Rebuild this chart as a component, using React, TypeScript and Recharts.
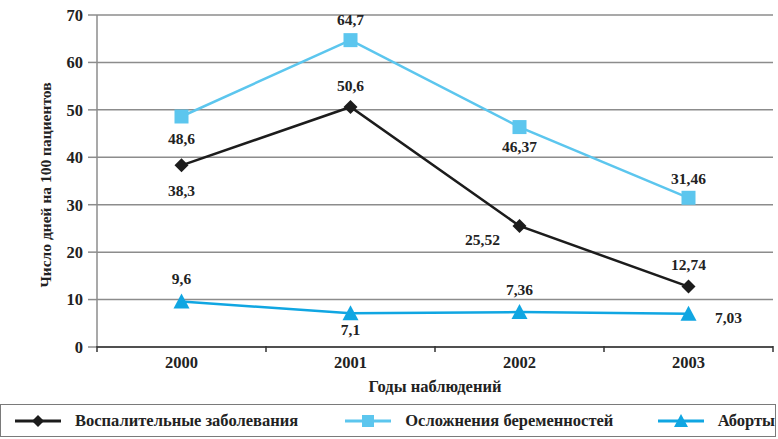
import React from "react";
import {CartesianGrid, Label, LabelList, Line, LineChart, XAxis, YAxis} from "recharts";

const years = ["2000", "2001", "2002", "2003"];
const inflammation = [38.3, 50.6, 25.52, 12.74];
const complications = [48.6, 64.7, 46.37, 31.46];
const abortions = [9.6, 7.1, 7.36, 7.03];
const yTicks = [0, 10, 20, 30, 40, 50, 60, 70];

const FONT = "Liberation Serif";
const TEXT = "#222";
const BLACK = "#1c1c1c";
const LIGHT_BLUE = "#5cc6ee";
const BLUE = "#10a6e2";
const GRID = "#8c8c8c";

const WIDTH = 778;
const HEIGHT = 404;
const PLOT_LEFT = 97;
const PLOT_RIGHT = 773;
const HALF_BAND = (PLOT_RIGHT - PLOT_LEFT) / years.length / 2;

const data = years.map((year, i) => ({
  year,
  inflammation: inflammation[i],
  complications: complications[i],
  abortions: abortions[i],
}));

// label offset per point: [dx, dy]
const inflammationOffsets = [[0, 25], [0, -22], [-37, 14], [0, -22]];
const complicationsOffsets = [[0, 22], [0, -21], [0, 19], [0, -19]];
const abortionsOffsets = [[0, -23], [0, 16], [0, -23], [40, 4]];

const fmt = (v: number) => String(v).replace(".", ",");

const textStyle = (size: number) => ({fontFamily: FONT, fontWeight: 700, fontSize: size, fill: TEXT});

function makeLabel(offsets: number[][]) {
  return (props: any) => {
    const {x, y, value, index} = props;
    const [dx, dy] = offsets[index];
    return (
      <text x={x + dx} y={y + dy} textAnchor="middle" dominantBaseline="central" style={textStyle(15.5)}>
        {fmt(value)}
      </text>
    );
  };
}

function Diamond({cx, cy, size = 7, color = BLACK}: any) {
  return <polygon points={`${cx},${cy - size} ${cx + size},${cy} ${cx},${cy + size} ${cx - size},${cy}`} fill={color}/>;
}

function Square({cx, cy, size = 7, color = LIGHT_BLUE}: any) {
  return <rect x={cx - size} y={cy - size} width={size * 2} height={size * 2} fill={color}/>;
}

function Triangle({cx, cy, size = 8, color = BLUE}: any) {
  return <polygon points={`${cx},${cy - size} ${cx + size},${cy + size - 1} ${cx - size},${cy + size - 1}`} fill={color}/>;
}

function YearTick(props: any) {
  const {x, y, payload, index} = props;
  return (
    <g>
      {index === 0 && <line x1={x - HALF_BAND} y1={y - 9} x2={x - HALF_BAND} y2={y - 3} stroke="#333" strokeWidth={1.5}/>}
      <line x1={x + HALF_BAND} y1={y - 9} x2={x + HALF_BAND} y2={y - 3} stroke="#333" strokeWidth={1.5}/>
      <text x={x} y={y + 7} textAnchor="middle" dominantBaseline="central" style={textStyle(16.5)}>
        {payload.value}
      </text>
    </g>
  );
}

function LegendItem({shape, color, text, width}: any) {
  return (
    <div style={{display: "flex", alignItems: "center", width}}>
      <svg width={50} height={20} style={{marginRight: 12}}>
        <line x1={2} y1={10} x2={48} y2={10} stroke={color} strokeWidth={3}/>
        {shape === "diamond" && <Diamond cx={25} cy={10} size={6} color={color}/>}
        {shape === "square" && <Square cx={25} cy={10} size={6} color={color}/>}
        {shape === "triangle" && <Triangle cx={25} cy={10} size={7} color={color}/>}
      </svg>
      <span style={{fontFamily: FONT, fontWeight: 700, fontSize: 16.5, color: TEXT}}>{text}</span>
    </div>
  );
}

export default function App() {
  return (
    <div style={{position: "absolute", left: 0, top: 0, width: WIDTH, height: 439, background: "#fff"}}>
      <LineChart width={WIDTH} height={HEIGHT} data={data} margin={{top: 15, right: WIDTH - PLOT_RIGHT, bottom: 0, left: 0}}>
        <CartesianGrid vertical={false} stroke={GRID} strokeWidth={1.5}/>
        <XAxis dataKey="year" height={57} padding={{left: HALF_BAND, right: HALF_BAND}}
               axisLine={{stroke: "#333", strokeWidth: 1.5}} tickLine={false} tick={<YearTick/>}>
          <Label value="Годы наблюдений" position="insideBottom" offset={12} style={textStyle(16.5)}/>
        </XAxis>
        <YAxis width={PLOT_LEFT} domain={[0, 70]} ticks={yTicks} interval={0} tickSize={9} tickMargin={5}
               axisLine={{stroke: GRID, strokeWidth: 1.5}} tickLine={{stroke: GRID, strokeWidth: 1.5}}
               tick={{style: textStyle(16.5)}}>
          <Label content={(p: any) => {
            const vb = p.viewBox;
            const cx = 45;
            const cy = vb.y + vb.height / 2 + 4;
            return (
              <text x={cx} y={cy} transform={`rotate(-90 ${cx} ${cy})`} textAnchor="middle" dominantBaseline="central"
                    style={textStyle(15.5)}>
                Число дней на 100 пациентов
              </text>
            );
          }}/>
        </YAxis>
        <Line dataKey="abortions" stroke={BLUE} strokeWidth={2.5} isAnimationActive={false}
              dot={(p: any) => <Triangle key={p.index} cx={p.cx} cy={p.cy}/>}>
          <LabelList dataKey="abortions" content={makeLabel(abortionsOffsets)}/>
        </Line>
        <Line dataKey="complications" stroke={LIGHT_BLUE} strokeWidth={2.5} isAnimationActive={false}
              dot={(p: any) => <Square key={p.index} cx={p.cx} cy={p.cy}/>}>
          <LabelList dataKey="complications" content={makeLabel(complicationsOffsets)}/>
        </Line>
        <Line dataKey="inflammation" stroke={BLACK} strokeWidth={2.5} isAnimationActive={false}
              dot={(p: any) => <Diamond key={p.index} cx={p.cx} cy={p.cy}/>}>
          <LabelList dataKey="inflammation" content={makeLabel(inflammationOffsets)}/>
        </Line>
      </LineChart>
      <div style={{
        position: "absolute", left: 0, top: 404, width: WIDTH - 2, height: 33,
        border: "1.5px solid #7a7a7a", display: "flex", alignItems: "center", boxSizing: "border-box",
        paddingLeft: 12
      }}>
        <LegendItem shape="diamond" color={BLACK} text="Воспалительные заболевания" width={333}/>
        <LegendItem shape="square" color={LIGHT_BLUE} text="Осложнения беременностей" width={315}/>
        <LegendItem shape="triangle" color={BLUE} text="Аборты"/>
      </div>
    </div>
  );
}
